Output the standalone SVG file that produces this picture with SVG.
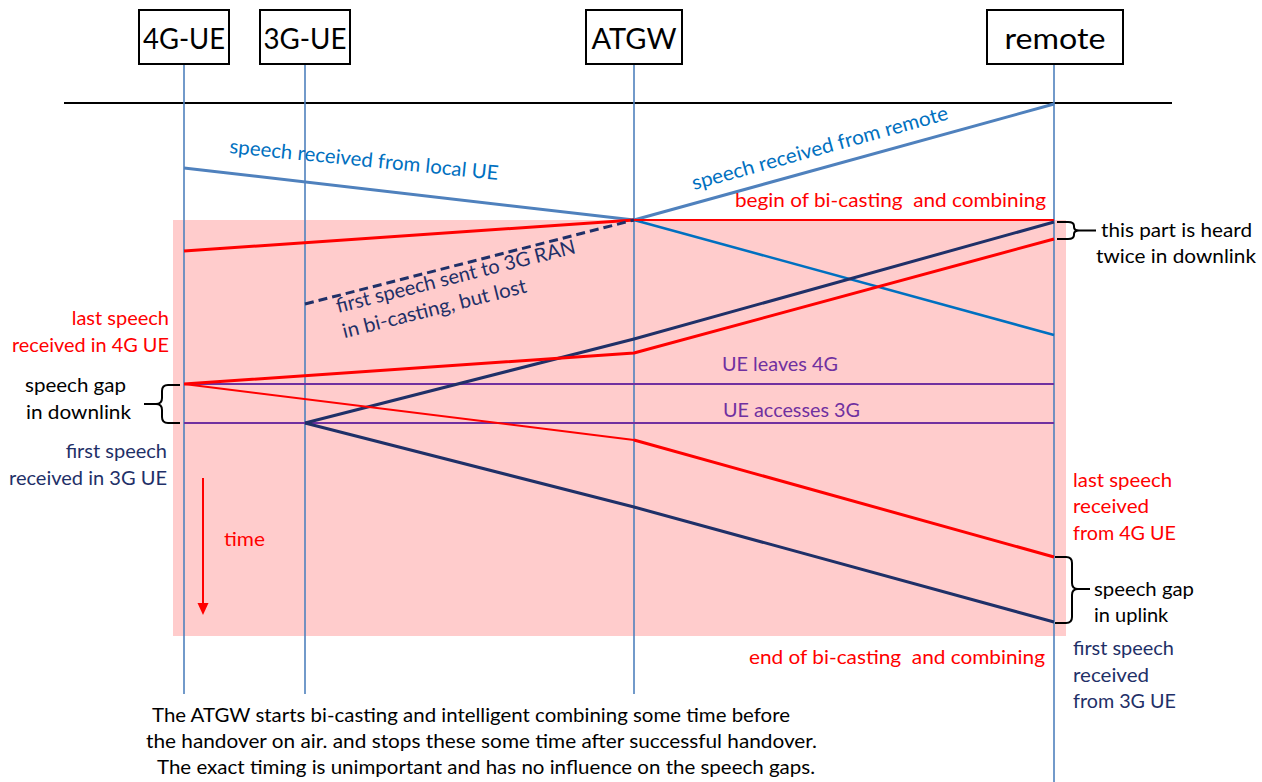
<svg xmlns="http://www.w3.org/2000/svg" width="1262" height="782" viewBox="0 0 1262 782">
<style>
text{font-family:Lato,"Noto Sans",sans-serif;font-size:20px;white-space:pre}
.box{fill:#fff;stroke:#000;stroke-width:2}
.bl{font-size:29px;fill:#000;text-anchor:middle}
.life{stroke:#4F81BD;stroke-width:1.6;fill:none}
.red{fill:#FF0000}
.navy{fill:#1F3068}
.blk{fill:#000}
.pur{fill:#7030A0}
.blu{fill:#0070C0}
.ln{fill:none;stroke-linejoin:round}
.brace{fill:none;stroke:#000;stroke-width:2}
</style>
<rect x="173" y="220" width="893" height="416" fill="#FFCCCC"/>
<line x1="64" y1="103" x2="1172" y2="103" stroke="#000" stroke-width="2"/>
<g id="node-4gue">
<line class="life" x1="184" y1="64" x2="184" y2="694"/>
<rect class="box" x="139" y="10" width="90" height="54"/>
<text class="bl" x="184" y="49" textLength="82" lengthAdjust="spacingAndGlyphs">4G-UE</text>
</g>
<g id="node-3gue">
<line class="life" x1="305" y1="64" x2="305" y2="694"/>
<rect class="box" x="260" y="10" width="90" height="54"/>
<text class="bl" x="305" y="49" textLength="83" lengthAdjust="spacingAndGlyphs">3G-UE</text>
</g>
<g id="node-atgw">
<line class="life" x1="634" y1="64" x2="634" y2="694"/>
<rect class="box" x="586" y="10" width="96" height="54"/>
<text class="bl" x="634" y="49" textLength="85" lengthAdjust="spacingAndGlyphs">ATGW</text>
</g>
<g id="node-remote">
<line class="life" x1="1054" y1="64" x2="1054" y2="782"/>
<rect class="box" x="987" y="10" width="136" height="54"/>
<text class="bl" x="1055" y="49" textLength="101" lengthAdjust="spacingAndGlyphs">remote</text>
</g>
<g id="connectors">
<line class="ln" x1="184" y1="168" x2="634" y2="220" stroke="#4F81BD" stroke-width="3"/>
<line class="ln" x1="634" y1="220" x2="1054" y2="104" stroke="#4F81BD" stroke-width="3"/>
<line class="ln" x1="634" y1="220" x2="1054" y2="335" stroke="#0070C0" stroke-width="2.5"/>
<line class="ln" x1="184" y1="251" x2="634" y2="220" stroke="#FF0000" stroke-width="3"/>
<line class="ln" x1="634" y1="220" x2="1054" y2="220" stroke="#FF0000" stroke-width="2"/>
<line class="ln" x1="305" y1="304" x2="634" y2="220" stroke="#1F3068" stroke-width="3" stroke-dasharray="9,5"/>
<line class="ln" x1="184" y1="384" x2="1054" y2="384" stroke="#7030A0" stroke-width="2"/>
<line class="ln" x1="184" y1="423" x2="1054" y2="423" stroke="#7030A0" stroke-width="2"/>
<polyline class="ln" points="305,423 634,339 1054,222" stroke="#1F3068" stroke-width="3"/>
<polyline class="ln" points="184,384 634,353 1054,239" stroke="#FF0000" stroke-width="3"/>
<line class="ln" x1="184" y1="384" x2="634" y2="440" stroke="#FF0000" stroke-width="2"/>
<line class="ln" x1="634" y1="440" x2="1054" y2="557" stroke="#FF0000" stroke-width="3"/>
<polyline class="ln" points="305,423 634,507 1054,622" stroke="#1F3068" stroke-width="3"/>
<line x1="203" y1="478" x2="203" y2="605" stroke="#FF0000" stroke-width="2"/>
<polygon points="197.5,603 208.5,603 203,615" fill="#FF0000"/>
<path class="brace" d="M180,385 L168,385 Q162,385 162,391 L162,398 Q162,404 156,404 L144,404 M156,404 Q162,404 162,410 L162,417 Q162,423 168,423 L180,423"/>
<path class="brace" d="M1057,222 L1068,222 Q1074,222 1074,226 L1074,227 Q1074,230.5 1079,230.5 L1096,230.5 M1079,230.5 Q1074,230.5 1074,234 L1074,235 Q1074,239 1068,239 L1057,239"/>
<path class="brace" d="M1055,557 L1066,557 Q1072,557 1072,563 L1072,583 Q1072,589 1078,589 L1090,589 M1078,589 Q1072,589 1072,595 L1072,617 Q1072,623 1066,623 L1055,623"/>
</g>
<g id="labels">
<text class="blu" transform="translate(229,153) rotate(5.7)" textLength="270" lengthAdjust="spacingAndGlyphs">speech received from local UE</text>
<text class="blu" transform="translate(694,190) rotate(-15.5)" textLength="265" lengthAdjust="spacingAndGlyphs">speech received from remote</text>
<g transform="translate(338,313) rotate(-14.1)">
<text class="navy" x="0" y="0" textLength="246" lengthAdjust="spacingAndGlyphs">first speech sent to 3G RAN</text>
<text class="navy" x="0" y="26" textLength="189" lengthAdjust="spacingAndGlyphs">in bi-casting, but lost</text>
</g>
<text class="red" x="735" y="207" textLength="311" lengthAdjust="spacingAndGlyphs">begin of bi-casting  and combining</text>
<text class="red" x="749" y="664" textLength="296" lengthAdjust="spacingAndGlyphs">end of bi-casting  and combining</text>
<text class="blk" x="1101" y="237" textLength="151" lengthAdjust="spacingAndGlyphs">this part is heard</text>
<text class="blk" x="1096" y="263" textLength="160" lengthAdjust="spacingAndGlyphs">twice in downlink</text>
<text class="pur" x="722" y="371" textLength="116" lengthAdjust="spacingAndGlyphs">UE leaves 4G</text>
<text class="pur" x="723" y="417" textLength="137" lengthAdjust="spacingAndGlyphs">UE accesses 3G</text>
<text class="red" x="169" y="325" text-anchor="end">last speech</text>
<text class="red" x="169" y="352" text-anchor="end" textLength="157" lengthAdjust="spacingAndGlyphs">received in 4G UE</text>
<text class="blk" x="25" y="392" textLength="101" lengthAdjust="spacingAndGlyphs">speech gap</text>
<text class="blk" x="26" y="419" textLength="105" lengthAdjust="spacingAndGlyphs">in downlink</text>
<text class="navy" x="167" y="458" text-anchor="end">first speech</text>
<text class="navy" x="167" y="485" text-anchor="end" textLength="158" lengthAdjust="spacingAndGlyphs">received in 3G UE</text>
<text class="red" x="224" y="546" textLength="41" lengthAdjust="spacingAndGlyphs">time</text>
<text class="red" x="1073" y="487" textLength="99" lengthAdjust="spacingAndGlyphs">last speech</text>
<text class="red" x="1073" y="513" textLength="76" lengthAdjust="spacingAndGlyphs">received</text>
<text class="red" x="1073" y="540" textLength="103" lengthAdjust="spacingAndGlyphs">from 4G UE</text>
<text class="blk" x="1094" y="596" textLength="100" lengthAdjust="spacingAndGlyphs">speech gap</text>
<text class="blk" x="1094" y="622">in uplink</text>
<text class="navy" x="1073" y="655" textLength="101" lengthAdjust="spacingAndGlyphs">first speech</text>
<text class="navy" x="1073" y="682" textLength="76" lengthAdjust="spacingAndGlyphs">received</text>
<text class="navy" x="1073" y="708" textLength="103" lengthAdjust="spacingAndGlyphs">from 3G UE</text>
<text class="blk" x="152" y="722" style="font-size:19px" textLength="638" lengthAdjust="spacingAndGlyphs">The ATGW starts bi-casting and intelligent combining some time before</text>
<text class="blk" x="146" y="748" style="font-size:19px" textLength="671" lengthAdjust="spacingAndGlyphs">the handover on air. and stops these some time after successful handover.</text>
<text class="blk" x="157" y="774" style="font-size:19px" textLength="658" lengthAdjust="spacingAndGlyphs">The exact timing is unimportant and has no influence on the speech gaps.</text>
</g>
</svg>
